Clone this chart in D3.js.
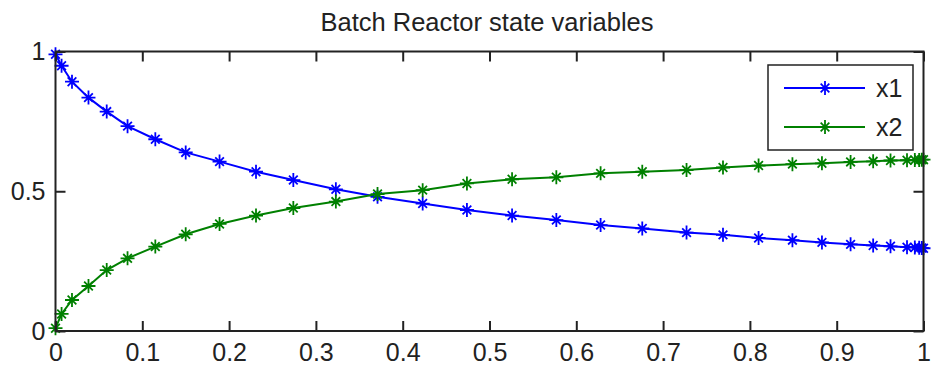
<!DOCTYPE html>
<meta charset="utf-8">
<style>
body { margin: 0; background: #fff; }
svg { display: block; }
.axis text { font-family: "Liberation Sans", Arial, sans-serif; font-size: 25px; fill: #222; }
.axis line { stroke: #222; stroke-width: 2px; }
.line { fill: none; stroke-width: 2px; }
.title { font-family: "Liberation Sans", Arial, sans-serif; font-size: 25.5px; fill: #222; }
.legend text { font-family: "Liberation Sans", Arial, sans-serif; font-size: 25px; fill: #222; }
</style>
<body>
<script src="https://d3js.org/d3.v7.min.js"></script>
<script>

// time points (ode solver output)
var tValues = [0, 0.007, 0.019, 0.038, 0.059, 0.083, 0.115, 0.150, 0.189, 0.231, 0.274,
  0.323, 0.371, 0.423, 0.474, 0.526, 0.577, 0.628, 0.676, 0.727, 0.769, 0.810,
  0.849, 0.883, 0.916, 0.942, 0.962, 0.981, 0.990, 0.995, 0.998, 1.0];

var x1Values = [0.99, 0.949, 0.892, 0.835, 0.785, 0.733, 0.686, 0.639, 0.606, 0.570, 0.540,
  0.507, 0.480, 0.456, 0.433, 0.413, 0.397, 0.379, 0.367, 0.352, 0.344, 0.333,
  0.325, 0.317, 0.310, 0.306, 0.303, 0.300, 0.299, 0.298, 0.297, 0.296];

var x2Values = [0.01, 0.061, 0.111, 0.161, 0.218, 0.260, 0.302, 0.346, 0.383, 0.413, 0.440,
  0.463, 0.490, 0.504, 0.528, 0.543, 0.550, 0.564, 0.570, 0.576, 0.585, 0.592,
  0.597, 0.600, 0.605, 0.607, 0.610, 0.611, 0.612, 0.612, 0.613, 0.613];

var seriesNames = ["x1", "x2"];
var seriesColors = ["#0000ff", "#008000"];

var xTicks = [0, 0.1, 0.2, 0.3, 0.4, 0.5, 0.6, 0.7, 0.8, 0.9, 1];
var yTicks = [0, 0.5, 1];

var chartTitle = "Batch Reactor state variables";

var W = 931, H = 371;
var margin = {top: 51.5, right: 7.5, bottom: 40, left: 55.5};
var width = W - margin.left - margin.right,
    height = H - margin.top - margin.bottom;

var x = d3.scaleLinear().domain([0, 1]).range([0, width]);
var y = d3.scaleLinear().domain([0, 1]).range([height, 0]);

var svg = d3.select("body").append("svg")
    .attr("width", W)
    .attr("height", H);

svg.append("rect").attr("width", W).attr("height", H).attr("fill", "#fff");

var g = svg.append("g")
    .attr("transform", "translate(" + margin.left + "," + margin.top + ")");

// star marker like matlab '*'
function starPath(r) {
  var d = r * 0.62;
  return "M" + (-r) + ",0L" + r + ",0" +
         "M0," + (-r) + "L0," + r +
         "M" + (-d) + "," + (-d) + "L" + d + "," + d +
         "M" + (-d) + "," + d + "L" + d + "," + (-d);
}

var series = [x1Values, x2Values].map(function(vals, i) {
  return {
    name: seriesNames[i],
    color: seriesColors[i],
    points: tValues.map(function(t, j) { return {t: t, v: vals[j]}; })
  };
});

var line = d3.line()
    .x(function(d) { return x(d.t); })
    .y(function(d) { return y(d.v); });

series.forEach(function(s) {
  g.append("path")
      .datum(s.points)
      .attr("class", "line")
      .attr("stroke", s.color)
      .attr("d", line);

  g.selectAll(null)
      .data(s.points)
    .enter().append("path")
      .attr("d", starPath(7))
      .attr("transform", function(d) { return "translate(" + x(d.t) + "," + y(d.v) + ")"; })
      .attr("fill", "none")
      .attr("stroke", s.color)
      .attr("stroke-width", 1.8);
});

// axes (inward ticks on all four sides)
var fmt = d3.format("");
g.append("g")
    .attr("class", "axis")
    .attr("transform", "translate(0," + height + ")")
    .call(d3.axisBottom(x).tickValues(xTicks).tickFormat(fmt).tickSizeInner(-10).tickSizeOuter(0).tickPadding(12))
    .call(function(a) { a.select(".domain").remove(); });

g.append("g")
    .attr("class", "axis")
    .call(d3.axisTop(x).tickValues(xTicks).tickFormat("").tickSizeInner(-10).tickSizeOuter(0))
    .call(function(a) { a.select(".domain").remove(); });

g.append("g")
    .attr("class", "axis")
    .call(d3.axisLeft(y).tickValues(yTicks).tickFormat(fmt).tickSizeInner(-10).tickSizeOuter(0).tickPadding(10))
    .call(function(a) { a.select(".domain").remove(); });

g.append("g")
    .attr("class", "axis")
    .attr("transform", "translate(" + width + ",0)")
    .call(d3.axisRight(y).tickValues(yTicks).tickFormat("").tickSizeInner(-10).tickSizeOuter(0))
    .call(function(a) { a.select(".domain").remove(); });

// box
g.append("rect")
    .attr("width", width)
    .attr("height", height)
    .attr("fill", "none")
    .attr("stroke", "#222")
    .attr("stroke-width", 2);

// title
svg.append("text")
    .attr("class", "title")
    .attr("x", 487)
    .attr("y", 31)
    .attr("text-anchor", "middle")
    .text(chartTitle);

// legend
var lg = g.append("g").attr("class", "legend")
    .attr("transform", "translate(" + (width - 155.5) + "," + 13.5 + ")");

lg.append("rect")
    .attr("width", 145)
    .attr("height", 85)
    .attr("fill", "#fff")
    .attr("stroke", "#222")
    .attr("stroke-width", 1.5);

var items = lg.selectAll(".item")
    .data(series)
  .enter().append("g")
    .attr("class", "item")
    .attr("transform", function(d, i) { return "translate(0," + (23 + i * 39) + ")"; });

items.append("line")
    .attr("x1", 16).attr("x2", 97)
    .attr("stroke", function(d) { return d.color; })
    .attr("stroke-width", 2);

items.append("path")
    .attr("d", starPath(7))
    .attr("transform", "translate(57,0)")
    .attr("fill", "none")
    .attr("stroke", function(d) { return d.color; })
    .attr("stroke-width", 1.8);

items.append("text")
    .attr("x", 108)
    .attr("y", 9)
    .text(function(d) { return d.name; });

</script>
</body>
